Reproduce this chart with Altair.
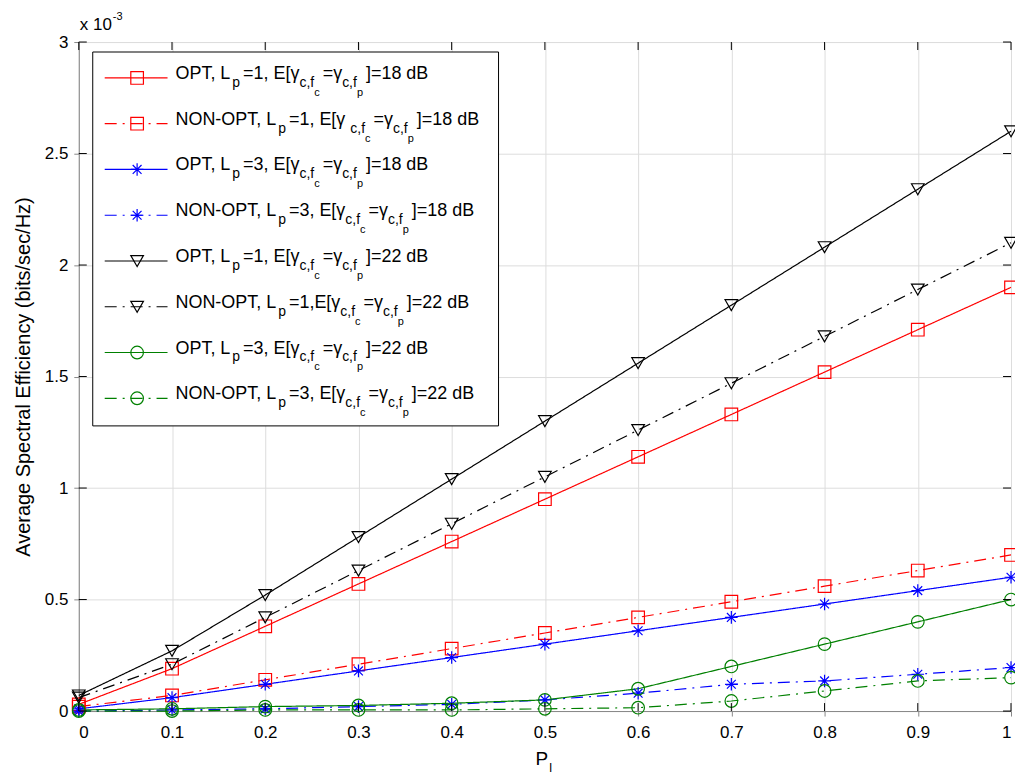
import altair as alt
import pandas as pd

# ---------------- data (values in units of 1e-3) ----------------
p_values = [0.0, 0.1, 0.2, 0.3, 0.4, 0.5, 0.6, 0.7, 0.8, 0.9, 1.0]

opt_l1_18 = [0.03, 0.19, 0.38, 0.57, 0.76, 0.95, 1.14, 1.33, 1.52, 1.71, 1.90]
nonopt_l1_18 = [0.02, 0.07, 0.14, 0.21, 0.28, 0.35, 0.42, 0.49, 0.56, 0.63, 0.70]
opt_l3_18 = [0.01, 0.06, 0.12, 0.18, 0.24, 0.30, 0.36, 0.42, 0.48, 0.54, 0.60]
nonopt_l3_18 = [0.0, 0.005, 0.01, 0.02, 0.03, 0.05, 0.08, 0.12, 0.135, 0.165, 0.195]
opt_l1_22 = [0.07, 0.27, 0.52, 0.78, 1.04, 1.30, 1.56, 1.82, 2.08, 2.34, 2.60]
nonopt_l1_22 = [0.06, 0.21, 0.42, 0.63, 0.84, 1.05, 1.26, 1.47, 1.68, 1.89, 2.10]
opt_l3_22 = [0.005, 0.01, 0.02, 0.025, 0.035, 0.05, 0.10, 0.20, 0.30, 0.40, 0.50]
nonopt_l3_22 = [0.0, 0.0, 0.005, 0.005, 0.005, 0.01, 0.015, 0.045, 0.09, 0.135, 0.15]

series_names = ["opt_l1_18", "nonopt_l1_18", "opt_l3_18", "nonopt_l3_18",
                "opt_l1_22", "nonopt_l1_22", "opt_l3_22", "nonopt_l3_22"]
series_values = [opt_l1_18, nonopt_l1_18, opt_l3_18, nonopt_l3_18,
                 opt_l1_22, nonopt_l1_22, opt_l3_22, nonopt_l3_22]
legend_kind = ["OPT", "NON-OPT", "OPT", "NON-OPT", "OPT", "NON-OPT", "OPT", "NON-OPT"]
legend_L = ["1", "1", "3", "3", "1", "1", "3", "3"]
legend_dB = ["18", "18", "18", "18", "22", "22", "22", "22"]
legend_sep = [", E[", ",  E[", ", E[", ", E[", ", E[", ",E[", ", E[", ", E["]

x_ticks = [0.0, 0.1, 0.2, 0.3, 0.4, 0.5, 0.6, 0.7, 0.8, 0.9, 1.0]
y_ticks = [0.0, 0.5, 1.0, 1.5, 2.0, 2.5, 3.0]

# ---------------- styles ----------------
colors = ["#ff0000", "#ff0000", "#0000ff", "#0000ff",
          "#000000", "#000000", "#008000", "#008000"]
asterisk = "M-1,0L1,0M0,-1L0,1M-0.7,-0.7L0.7,0.7M-0.7,0.7L0.7,-0.7"
shapes = ["square", "square", asterisk, asterisk,
          "triangle-down", "triangle-down", "circle", "circle"]
sizes = [160, 160, 150, 150, 190, 190, 140, 140]
DASHDOT = [12, 6, 2, 6]

W, H = 935, 671
XMAX, YMAX = 1.0, 3.0
FONT = "Liberation Sans"

rows = []
for name, kind, vals in zip(series_names, legend_kind, series_values):
    for xv, yv in zip(p_values, vals):
        rows.append({"x": xv, "y": yv, "series": name, "style": kind})
df = pd.DataFrame(rows)

xs = alt.Scale(domain=[0, XMAX], nice=False, zero=False)
ys = alt.Scale(domain=[0, YMAX], nice=False, zero=False)
cscale = alt.Scale(domain=series_names, range=colors)
shscale = alt.Scale(domain=series_names, range=shapes)
szscale = alt.Scale(domain=series_names, range=sizes)
dscale = alt.Scale(domain=["OPT", "NON-OPT"], range=[[1, 0], DASHDOT])

xaxis = alt.Axis(values=x_ticks, format=".1~f", grid=True, title=None,
                 labelPadding=9, labelFontSize=17)
yaxis = alt.Axis(values=y_ticks, format=".1~f", grid=True,
                 title="Average Spectral Efficiency (bits/sec/Hz)",
                 labelPadding=6, labelFontSize=17, titleFontSize=20,
                 titlePadding=11, titleFontWeight="normal")

lines = alt.Chart(df).mark_line(strokeWidth=1.2).encode(
    x=alt.X("x:Q", scale=xs, axis=xaxis),
    y=alt.Y("y:Q", scale=ys, axis=yaxis),
    color=alt.Color("series:N", scale=cscale, legend=None),
    strokeDash=alt.StrokeDash("style:N", scale=dscale, legend=None),
    detail="series:N",
    order=alt.Order("x:Q"),
)

points = alt.Chart(df).mark_point(filled=False, strokeWidth=1.2, opacity=1).encode(
    x=alt.X("x:Q", scale=xs),
    y=alt.Y("y:Q", scale=ys),
    color=alt.Color("series:N", scale=cscale, legend=None),
    shape=alt.Shape("series:N", scale=shscale, legend=None),
    size=alt.Size("series:N", scale=szscale, legend=None),
)

# ---------------- inward ticks (MATLAB box style) ----------------
xt = pd.DataFrame({"v": x_ticks})
yt = pd.DataFrame({"v": y_ticks})
TL = 8
tick_layers = [
    alt.Chart(xt).mark_rule(color="black").encode(
        x=alt.X("v:Q", scale=xs), y=alt.value(H), y2=alt.value(H - TL)),
    alt.Chart(xt).mark_rule(color="black").encode(
        x=alt.X("v:Q", scale=xs), y=alt.value(0), y2=alt.value(TL)),
    alt.Chart(yt).mark_rule(color="black").encode(
        y=alt.Y("v:Q", scale=ys), x=alt.value(0), x2=alt.value(TL)),
    alt.Chart(yt).mark_rule(color="black").encode(
        y=alt.Y("v:Q", scale=ys), x=alt.value(W), x2=alt.value(W - TL)),
]

# ---------------- legend (drawn inside plot, MATLAB style) ----------------
ARIAL = {' ': 278, ',': 278, '-': 333, '.': 278, '=': 584, '[': 278, ']': 278,
         'A': 667, 'B': 667, 'E': 667, 'L': 556, 'N': 722, 'O': 778, 'P': 667,
         'T': 611, 'c': 500, 'd': 556, 'f': 278, 'p': 556, 'γ': 500, 'x': 500}


def tw(s, fs):
    return sum(ARIAL.get(ch, 556) for ch in s) / 1000.0 * fs


def dx(px):
    return px / W * XMAX


def dy(py):
    return YMAX * (1 - py / H)


FS = [18, 14, 11]
DY = [1, 9, 18]
GAP = 3
ROW0, ROWSTEP = 36, 45.9
BOX = (14, 421, 10, 385)
LINE_X = (26, 89)
MARK_X = 58.5
TEXT_X = 97

seg_rows = []
leg_line_rows = []
leg_mark_rows = []
for i, name in enumerate(series_names):
    ry = ROW0 + ROWSTEP * i
    segs = [(f"{legend_kind[i]}, L", 0), ("p", 1), (f"={legend_L[i]}{legend_sep[i]}γ", 0),
            ("c,f", 1), ("c", 2), ("=γ", 0), ("c,f", 1), ("p", 2),
            (f"]={legend_dB[i]} dB", 0)]
    px = TEXT_X
    for k, (t, lvl) in enumerate(segs):
        seg_rows.append({"x": dx(px), "y": dy(ry + DY[lvl]), "t": t, "lvl": lvl})
        px += tw(t, FS[lvl])
        if lvl > 0 and (k + 1 < len(segs)) and segs[k + 1][1] == 0:
            px += GAP
    leg_line_rows.append({"x": dx(LINE_X[0]), "x2": dx(LINE_X[1]), "y": dy(ry),
                          "series": name, "style": legend_kind[i]})
    leg_mark_rows.append({"x": dx(MARK_X), "y": dy(ry), "series": name})

seg_df = pd.DataFrame(seg_rows)
box_df = pd.DataFrame([{"x": dx(BOX[0]), "x2": dx(BOX[1]), "y": dy(BOX[2]), "y2": dy(BOX[3])}])
ll_df = pd.DataFrame(leg_line_rows)
lm_df = pd.DataFrame(leg_mark_rows)

legend_box = alt.Chart(box_df).mark_rect(fill="white", stroke="black", strokeWidth=1).encode(
    x=alt.X("x:Q", scale=xs), x2="x2:Q", y=alt.Y("y:Q", scale=ys), y2="y2:Q")

legend_lines = alt.Chart(ll_df).mark_rule(strokeWidth=1.2).encode(
    x=alt.X("x:Q", scale=xs), x2="x2:Q", y=alt.Y("y:Q", scale=ys),
    color=alt.Color("series:N", scale=cscale, legend=None),
    strokeDash=alt.StrokeDash("style:N", scale=dscale, legend=None),
)

legend_marks = alt.Chart(lm_df).mark_point(filled=False, strokeWidth=1.2, opacity=1).encode(
    x=alt.X("x:Q", scale=xs), y=alt.Y("y:Q", scale=ys),
    color=alt.Color("series:N", scale=cscale, legend=None),
    shape=alt.Shape("series:N", scale=shscale, legend=None),
    size=alt.Size("series:N", scale=szscale, legend=None),
)

legend_text = [
    alt.Chart(seg_df[seg_df.lvl == lvl]).mark_text(
        align="left", baseline="alphabetic", font=FONT, fontSize=FS[lvl], color="black"
    ).encode(x=alt.X("x:Q", scale=xs), y=alt.Y("y:Q", scale=ys), text="t:N")
    for lvl in range(3)
]

# ---------------- extra labels: x10^-3 and x-axis title P_I ----------------
def label(text, px, py, fs):
    return alt.Chart(pd.DataFrame({"t": [text]})).mark_text(
        align="left", baseline="alphabetic", font=FONT, fontSize=fs, color="black"
    ).encode(x=alt.value(px), y=alt.value(py), text="t:N")


exp_main = "x 10"
extra = [
    label(exp_main, 1, -12, 17),
    label("-3", 1 + tw(exp_main, 17) + 1, -22, 11),
    label("P", 458, 725, 19),
    label("I", 458 + tw("P", 19) + 1, 732, 12),
]

chart = alt.layer(
    lines, points, *tick_layers, legend_box, legend_lines, legend_marks, *legend_text, *extra
).properties(
    width=W, height=H,
    autosize=alt.AutoSizeParams(type="none"),
    padding={"left": 71, "top": 33, "right": 4, "bottom": 63},
).configure_axis(
    gridColor="black", gridDash=[4, 3], gridOpacity=1, gridWidth=1,
    domain=False, ticks=False, tickSize=0,
    labelFont=FONT, labelColor="black", titleFont=FONT, titleColor="black",
).configure_view(
    stroke="black", strokeWidth=1.2,
).configure(background="white")

chart.save("out.html", embed_options={"renderer": "svg", "actions": False})
